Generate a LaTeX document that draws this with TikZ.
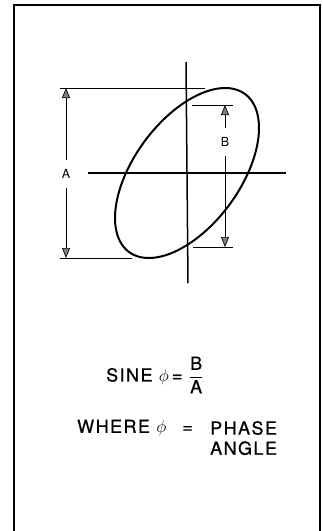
\documentclass[tikz,border=0pt]{standalone}
\usepackage{fontspec}
\setmainfont{TeX Gyre Heros}
\newfontfamily\capsfont[LetterSpace=8,FakeBold=0.6]{TeX Gyre Heros}
\usetikzlibrary{arrows.meta,positioning}

\begin{document}
\begin{tikzpicture}[x=1pt, y=-1pt, >={Triangle[width=8pt,length=10pt,fill=black!50]},
    every node/.style={inner sep=0pt},
    dimline/.style={line width=0.7pt},
    axis/.style={line width=1.5pt},
    lab/.style={font=\fontsize{12.5}{14}\selectfont, minimum height=28pt, fill=white},
    formula/.style={font=\fontsize{18}{21}\selectfont\capsfont, anchor=west}]
  \useasboundingbox (0,0) rectangle (323,531);
  % frame, open at the bottom
  \draw[line width=1.2pt] (14,531) -- (14,5) -- (320,5) -- (320,531);

  % axes
  \coordinate (origin) at (187,173);
  \coordinate (ytop) at (186,62);
  \coordinate (ybot) at (188,283);
  \coordinate (xleft) at (88,173);
  \coordinate (xright) at (286,173);
  \draw[axis] (ytop) -- (ybot);
  \draw[axis] (xleft) -- (xright);

  % lissajous ellipse
  \draw[line width=2pt, shift={(origin)}]
    plot[domain=0:360, samples=120, smooth cycle] ({72*sin(\x)}, {-85*sin(\x+58)});

  % extension lines
  \draw[dimline] (60,88) -- (205,88);
  \draw[dimline] (60,258) -- (132,258);
  \draw[dimline] (192,105) -- (233,105);
  \draw[dimline] (193,247) -- (233,247);

  % dimension A
  \coordinate (atop) at (66,88);
  \coordinate (abot) at (66,258);
  \node[lab] (labA) at (66,174) {A};
  \draw[dimline,->] (labA) -- (atop);
  \draw[dimline,->] (labA) -- (abot);

  % dimension B
  \coordinate (btop) at (225,105);
  \coordinate (bbot) at (225,247);
  \node[lab] (labB) at (225,142) {B};
  \draw[dimline,->] (labB) -- (btop);
  \draw[dimline,->] (labB) -- (bbot);

  % formula
  \node[formula] (sine) at (106,375) {SINE $\phi$\,= $\displaystyle\frac{\mbox{B}}{\mbox{A}}$};
  \node[formula] (where) at (77,428) {WHERE $\phi$ \ \,=};
  \node[formula] (phase) at (210,428) {PHASE};
  \node[formula, below=6pt of phase.south west, anchor=north west] (angle) {ANGLE};
\end{tikzpicture}
\end{document}
